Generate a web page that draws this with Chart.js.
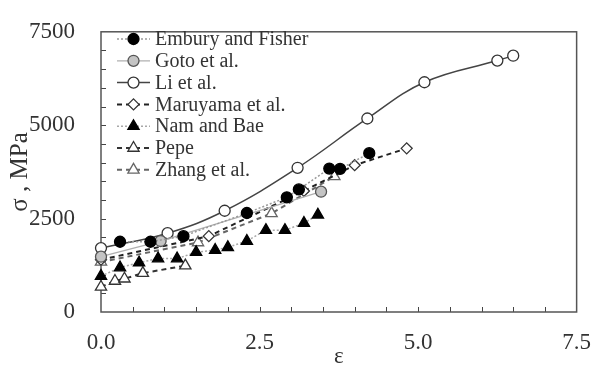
<!DOCTYPE html>
<html lang="en">
<head>
    <meta charset="UTF-8">
    <title>Flow stress vs strain</title>
    <script src="https://cdn.jsdelivr.net/npm/chart.js"></script>
    <style>
        body {
            margin: 0;
            background: #fff;
        }

        #wrap {
            width: 600px;
            height: 380px;
        }
    </style>
</head>
<body>
    <div id="wrap"><canvas id="stressChart" width="600" height="380"></canvas></div>

    <script>
        // data (strain, stress in MPa)
        const emburyX = [0.3, 0.78, 1.3, 2.3, 2.93, 3.12, 3.6, 3.77, 4.23];
        const emburyY = [1880, 1880, 2030, 2650, 3070, 3280, 3840, 3830, 4250];

        const gotoX = [0, 0.94, 3.47];
        const gotoY = [1480, 1900, 3220];

        const liX = [0, 1.05, 1.95, 3.1, 4.2, 5.1, 6.25, 6.5];
        const liY = [1710, 2110, 2710, 3860, 5180, 6150, 6730, 6860];

        const maruyamaX = [0, 1.7, 3.2, 4.0, 4.82];
        const maruyamaY = [1400, 2030, 3240, 3930, 4380];

        const namX = [0, 0.3, 0.6, 0.9, 1.2, 1.5, 1.8, 2.0, 2.3, 2.6, 2.9, 3.2, 3.42];
        const namY = [960, 1190, 1320, 1430, 1430, 1600, 1660, 1730, 1900, 2190, 2190, 2380, 2600];

        const pepeX = [0, 0.22, 0.37, 0.66, 1.33];
        const pepeY = [670, 830, 890, 1040, 1240];

        const zhangX = [0, 1.53, 2.69, 3.68];
        const zhangY = [1340, 1860, 2640, 3630];

        const xTicks = [0, 2.5, 5, 7.5];
        const yTicks = [0, 2500, 5000, 7500];

        const pts = (xs, ys) => xs.map((x, i) => ({ x: x, y: ys[i] }));

        const serif = "'Liberation Serif', 'Times New Roman', serif";
        const textColor = '#333';

        // frame round the plot area and small inward ticks
        const frameTicks = {
            id: 'frameTicks',
            beforeDatasetsDraw(chart) {
                const { ctx, chartArea: a, scales: { x, y } } = chart;
                ctx.save();
                ctx.strokeStyle = '#444';
                ctx.lineWidth = 1;
                for (let v = 0.5; v < 7.5; v += 0.5) {
                    const px = Math.round(x.getPixelForValue(v)) + 0.5;
                    ctx.beginPath();
                    ctx.moveTo(px, a.bottom);
                    ctx.lineTo(px, a.bottom - 5);
                    ctx.stroke();
                }
                for (let v = 500; v < 7500; v += 500) {
                    const py = Math.round(y.getPixelForValue(v)) + 0.5;
                    ctx.beginPath();
                    ctx.moveTo(a.left, py);
                    ctx.lineTo(a.left + 5, py);
                    ctx.stroke();
                }
                ctx.strokeStyle = '#555';
                ctx.lineWidth = 1.5;
                ctx.strokeRect(a.left, a.top, a.right - a.left, a.bottom - a.top);
                ctx.restore();
            }
        };

        // legend drawn with the same line and marker styles as the series
        const lineLegend = {
            id: 'lineLegend',
            afterDatasetsDraw(chart) {
                const ctx = chart.ctx;
                const x0 = 117, x1 = 150, top = 39, gap = 21.8;
                ctx.save();
                chart.data.datasets.forEach((ds, i) => {
                    const yy = top + i * gap;
                    ctx.strokeStyle = ds.borderColor;
                    ctx.lineWidth = ds.borderWidth;
                    ctx.setLineDash(ds.borderDash || []);
                    ctx.beginPath();
                    ctx.moveTo(x0, yy);
                    ctx.lineTo(x1, yy);
                    ctx.stroke();
                    ctx.setLineDash([]);
                    ctx.fillStyle = ds.pointBackgroundColor;
                    ctx.strokeStyle = ds.pointBorderColor;
                    ctx.lineWidth = ds.pointBorderWidth;
                    Chart.helpers.drawPoint(ctx, {
                        pointStyle: ds.pointStyle,
                        radius: ds.pointRadius,
                        rotation: 0,
                        borderWidth: ds.pointBorderWidth
                    }, (x0 + x1) / 2, yy);
                    ctx.fillStyle = textColor;
                    ctx.font = '20px ' + serif;
                    ctx.textBaseline = 'middle';
                    ctx.textAlign = 'left';
                    ctx.fillText(ds.label, 155, yy + 1);
                });
                ctx.restore();
            }
        };

        function series(label, xs, ys, o) {
            return {
                label: label,
                data: pts(xs, ys),
                showLine: true,
                clip: false,
                borderColor: o.line,
                borderWidth: o.width,
                borderDash: o.dash || [],
                tension: o.tension || 0,
                pointStyle: o.style,
                pointRadius: o.r,
                pointBackgroundColor: o.fill,
                pointBorderColor: o.edge,
                pointBorderWidth: 1.3
            };
        }

        const ctx = document.getElementById('stressChart').getContext('2d');
        const stressChart = new Chart(ctx, {
            type: 'scatter',
            data: {
                datasets: [
                    series('Embury and Fisher', emburyX, emburyY,
                        { line: '#9a9a9a', width: 1.5, dash: [2, 2], style: 'circle', r: 5.5, fill: '#000', edge: '#000' }),
                    series('Goto et al.', gotoX, gotoY,
                        { line: '#b0b0b0', width: 1.3, style: 'circle', r: 5.5, fill: '#c4c4c4', edge: '#555' }),
                    series('Li et al.', liX, liY,
                        { line: '#444', width: 1.5, tension: 0.4, style: 'circle', r: 5.5, fill: '#fff', edge: '#333' }),
                    series('Maruyama et al.', maruyamaX, maruyamaY,
                        { line: '#222', width: 2, dash: [5, 4], style: 'rectRot', r: 5.5, fill: '#fff', edge: '#333' }),
                    series('Nam and Bae', namX, namY,
                        { line: '#a8a8a8', width: 1.5, dash: [2, 2], style: 'triangle', r: 6.5, fill: '#000', edge: '#000' }),
                    series('Pepe', pepeX, pepeY,
                        { line: '#333', width: 2, dash: [5, 4], style: 'triangle', r: 6.5, fill: '#fff', edge: '#333' }),
                    series('Zhang et al.', zhangX, zhangY,
                        { line: '#666', width: 2, dash: [5, 4], style: 'triangle', r: 6.5, fill: '#fff', edge: '#666' })
                ]
            },
            options: {
                responsive: false,
                animation: false,
                layout: {
                    padding: { top: 22, right: 13, left: 0, bottom: 0 }
                },
                plugins: {
                    legend: { display: false },
                    tooltip: { enabled: false }
                },
                scales: {
                    x: {
                        type: 'linear',
                        min: 0,
                        max: 7.5,
                        afterBuildTicks: (s) => { s.ticks = xTicks.map(v => ({ value: v })); },
                        afterFit: (s) => { s.height = 68; },
                        grid: { display: false },
                        border: { display: false },
                        ticks: {
                            padding: 9,
                            color: textColor,
                            font: { family: serif, size: 23 },
                            callback: (v) => v.toFixed(1)
                        },
                        title: {
                            display: true,
                            text: 'ε',
                            color: textColor,
                            font: { family: serif, size: 23 },
                            padding: { top: 0, bottom: 9 }
                        }
                    },
                    y: {
                        min: 0,
                        max: 7500,
                        afterBuildTicks: (s) => { s.ticks = yTicks.map(v => ({ value: v })); },
                        afterFit: (s) => { s.width = 101; },
                        grid: { display: false },
                        border: { display: false },
                        ticks: {
                            padding: 18,
                            color: textColor,
                            font: { family: serif, size: 23 },
                            callback: (v) => String(v)
                        },
                        title: {
                            display: true,
                            text: 'σ , MPa',
                            color: textColor,
                            font: { family: serif, size: 25 },
                            padding: { top: 5, bottom: 0 }
                        }
                    }
                }
            },
            plugins: [frameTicks, lineLegend]
        });
    </script>
</body>
</html>
